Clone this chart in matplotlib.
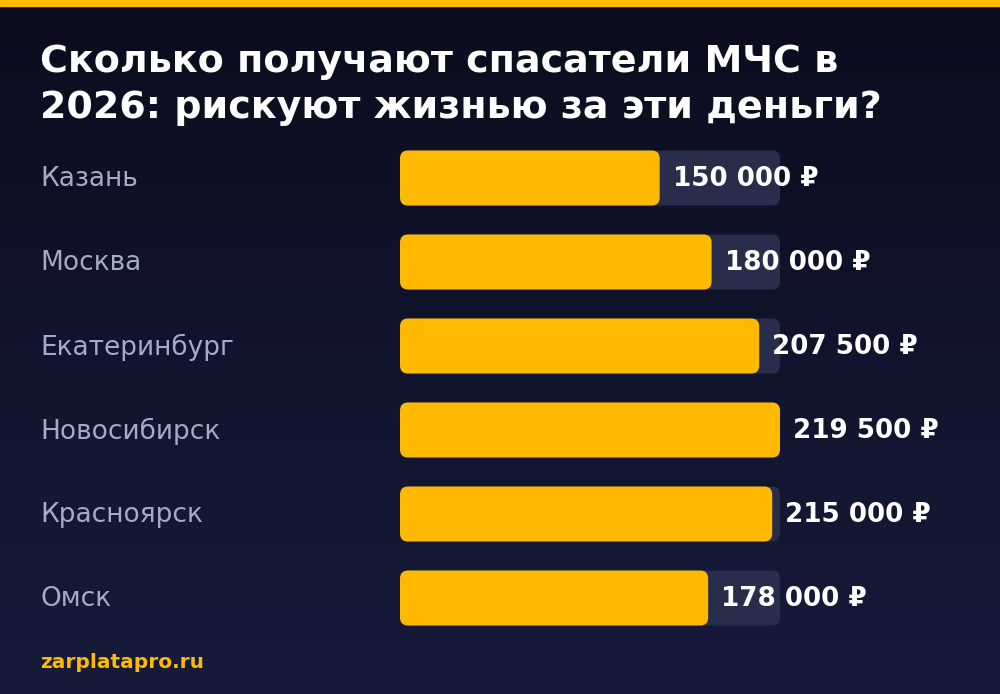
import numpy as np
import matplotlib
matplotlib.use('Agg')
import matplotlib.pyplot as plt
from matplotlib.patches import FancyBboxPatch, Rectangle
from matplotlib.transforms import blended_transform_factory

# data
cities = ['Казань', 'Москва', 'Екатеринбург', 'Новосибирск', 'Красноярск', 'Омск']
salaries = [150000, 180000, 207500, 219500, 215000, 178000]
value_labels = ['150 000 ₽', '180 000 ₽', '207 500 ₽', '219 500 ₽', '215 000 ₽', '178 000 ₽']

title = 'Сколько получают спасатели МЧС в\n2026: рискуют жизнью за эти деньги?'
source = 'zarplatapro.ru'

GOLD = '#ffba00'
TRACK = '#282d4b'
LABEL = '#a7aac6'

W, H = 1000, 694
fig = plt.figure(figsize=(W / 100, H / 100), dpi=100)

# background gradient
bg = fig.add_axes([0, 0, 1, 1], zorder=0)
grad = np.linspace(0, 1, 256).reshape(-1, 1)
c_top = np.array([11, 13, 30]) / 255
c_bot = np.array([22, 27, 58]) / 255
img = c_top + grad[..., None] * (c_bot - c_top)
bg.imshow(img, aspect='auto', extent=[0, 1, 0, 1], origin='upper')
bg.set_axis_off()
fig.patches.append(Rectangle((0, 1 - 6 / H), 1, 6 / H, transform=fig.transFigure,
                             color=GOLD, zorder=5))

# bars axes: x 400..780 px, rows every 84 px starting at 178
ax = fig.add_axes([400 / W, 54 / H, 380 / W, 504 / H], zorder=1)
ax.patch.set_alpha(0)
vmax = max(salaries)
ax.set_xlim(0, vmax)
ax.set_ylim(len(cities) - 0.5, -0.5)
ax.set_axis_off()

bar_h = 55 / 84
px_x = vmax / 380
px_y = 1 / 84
r = 8 * px_x
asp = px_y / px_x

trans_lab = blended_transform_factory(fig.transFigure, ax.transData)
for i, (city, val, lab) in enumerate(zip(cities, salaries, value_labels)):
    ax.add_patch(FancyBboxPatch((0, i - bar_h / 2), vmax, bar_h,
                                boxstyle=f'round,pad=0,rounding_size={r}',
                                mutation_aspect=asp, fc=TRACK, ec='none'))
    ax.add_patch(FancyBboxPatch((0, i - bar_h / 2), val, bar_h,
                                boxstyle=f'round,pad=0,rounding_size={r}',
                                mutation_aspect=asp, fc=GOLD, ec='none'))
    ax.annotate(lab, (val, i), xytext=(9.5, -0.7), textcoords='offset points',
                ha='left', va='center', color='white', fontsize=18.8,
                fontweight='bold', annotation_clip=False)
    ax.annotate(city, (0.04, i), xycoords=trans_lab, xytext=(0, -0.7),
                textcoords='offset points', ha='left', va='center',
                color=LABEL, fontsize=19)

fig.text(0.04, 1 - 44 / H, title, ha='left', va='top', color='white',
         fontsize=27.4, fontweight='bold', linespacing=1.36)
fig.text(0.04, 1 - 662 / H, source, ha='left', va='center', color=GOLD,
         fontsize=14.5, fontweight='bold')

fig.savefig('out.png', dpi=100)
